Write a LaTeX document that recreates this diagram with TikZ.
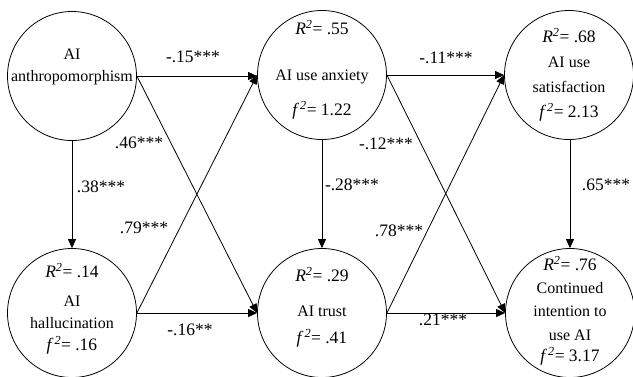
\documentclass[tikz,border=0pt]{standalone}
\usepackage{fontspec}
\setmainfont{Liberation Serif}
\usetikzlibrary{arrows.meta}
\newcommand{\rsq}[1]{{\itshape R}\textsuperscript{\itshape 2}= #1}
\newcommand{\fsq}[1]{{\itshape f}\,\textsuperscript{\itshape 2}= #1}
\begin{document}
\begin{tikzpicture}[x=1pt,y=-1pt,
  var/.style={circle,draw,line width=0.8pt,minimum size=129pt,inner sep=0pt},
  nm/.style={font=\fontsize{16}{18}\selectfont,inner sep=0pt,anchor=mid},
  st/.style={font=\fontsize{17.5}{20}\selectfont,inner sep=0pt,anchor=mid},
  coef/.style={font=\fontsize{17.5}{20}\selectfont,inner sep=0pt,anchor=mid},
  arr/.style={draw,line width=0.8pt,-{Triangle[length=9pt,width=8pt]}}]
\useasboundingbox (0,0) rectangle (633,376);
% circles
\node[var] (anth) at (72,76) {};
\node[var] (anx)  at (322,75) {};
\node[var] (sat)  at (569,75) {};
\node[var] (hal)  at (72,313) {};
\node[var] (tru)  at (322,313) {};
\node[var] (con)  at (570,313) {};
% texts
\node[nm] (anth1) at (72,57) {AI};
\node[nm] (anth2) at (72,79) {anthropomorphism};
\node[st] (anxr) at (322,32) {\rsq{.55}};
\node[nm] (anx1) at (322,78) {AI use anxiety};
\node[st] (anxf) at (322,113) {\fsq{1.22}};
\node[st] (satr) at (569,40) {\rsq{.68}};
\node[nm] (sat1) at (569,65) {AI use};
\node[nm] (sat2) at (569,90) {satisfaction};
\node[st] (satf) at (569,115) {\fsq{2.13}};
\node[st] (halr) at (72,275) {\rsq{.14}};
\node[nm] (hal1) at (72,304) {AI};
\node[nm] (hal2) at (72,326) {hallucination};
\node[st] (half) at (72,348) {\fsq{.16}};
\node[st] (trur) at (322,279) {\rsq{.29}};
\node[nm] (tru1) at (322,314) {AI trust};
\node[st] (truf) at (322,341) {\fsq{.41}};
\node[st] (conr) at (570,268) {\rsq{.76}};
\node[nm] (con1) at (570,291) {Continued};
\node[nm] (con2) at (570,314) {intention to};
\node[nm] (con3) at (570,338) {use AI};
\node[st] (conf) at (570,359) {\fsq{3.17}};
% connectors
\draw[arr] (anth.east) -- (anth.east -| anx.west);
\draw[arr] (anth.east) -- (tru.west);
\draw[arr] (anth.south) -- (hal.north);
\draw[arr] (hal.east) -- (anx.west);
\draw[arr] (hal.east) -- (tru.west);
\draw[arr] (anx.east) -- (anx.east -| sat.west);
\draw[arr] (anx.east) -- (con.west);
\draw[arr] (anx.south) -- (tru.north);
\draw[arr] (tru.east) -- (sat.west);
\draw[arr] (tru.east) -- (con.west);
\draw[arr] (sat.south -| con.north) -- (con.north);
% coefficients
\node[coef] (c1) at (193,60) {-.15***};
\node[coef] (c2) at (139,146) {.46***};
\node[coef] (c3) at (101,190) {.38***};
\node[coef] (c4) at (144,231) {.79***};
\node[coef] (c5) at (190,333) {-.16**};
\node[coef] (c6) at (446,61) {-.11***};
\node[coef] (c7) at (386,147) {-.12***};
\node[coef] (c8) at (352,188) {-.28***};
\node[coef] (c9) at (399,234) {.78***};
\node[coef] (c10) at (606,188) {.65***};
\node[coef] (c11) at (443,323) {.21***};
\end{tikzpicture}
\end{document}
